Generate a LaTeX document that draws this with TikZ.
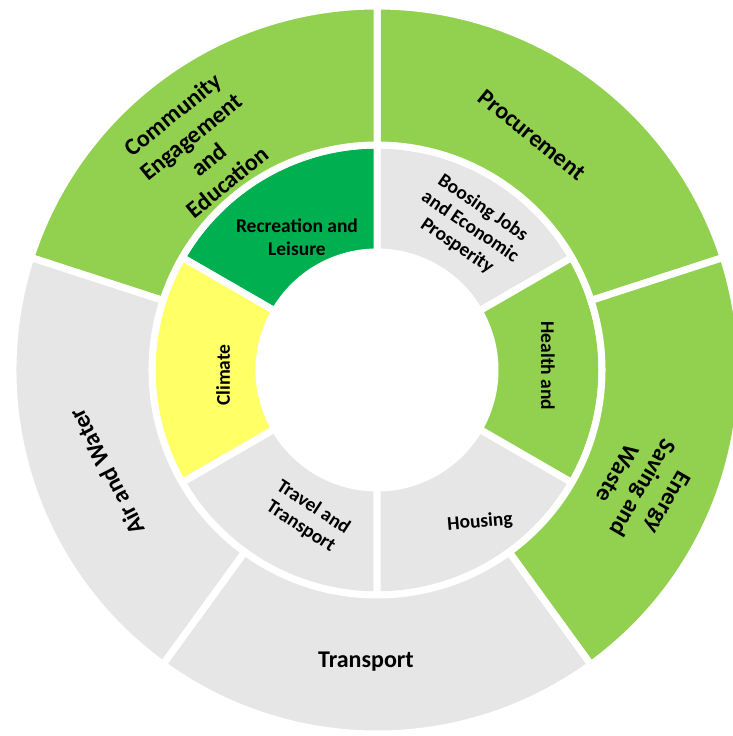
\documentclass[tikz,border=0pt]{standalone}
\usepackage{fontspec}
\setmainfont{Carlito}
\usepackage{xcolor}
\usepackage{tikz}
\usetikzlibrary{positioning}
\definecolor{leafgreen}{RGB}{146,208,80}
\definecolor{deepgreen}{RGB}{0,176,80}
\definecolor{paleyellow}{RGB}{255,255,102}
\definecolor{palegray}{RGB}{231,230,230}

\begin{document}
\begin{tikzpicture}[
  x=1pt, y=1pt,
  seg/.style={draw=white, line width=7pt, line join=miter},
  outerlbl/.style={font=\fontsize{24}{29}\selectfont\bfseries, align=center, text=black},
  innerlbl/.style={font=\fontsize{19.5}{23}\selectfont\bfseries, align=center, text=black}
]
\useasboundingbox (-377,-366) rectangle (355,370);
% inner ring
\foreach \from/\to/\col in {30/90/palegray, 90/150/deepgreen, 150/210/paleyellow,
                             210/270/palegray, 270/330/palegray, 330/390/leafgreen}
  \filldraw[seg, fill=\col] (\from:118) arc[start angle=\from, end angle=\to, radius=118]
    -- (\to:225) arc[start angle=\to, end angle=\from, radius=225] -- cycle;
% outer ring
\foreach \from/\to/\col in {18/90/leafgreen, 90/162/leafgreen, 162/234/palegray,
                             234/306/palegray, 306/378/leafgreen}
  \filldraw[seg, fill=\col] (\from:225) arc[start angle=\from, end angle=\to, radius=225]
    -- (\to:364) arc[start angle=\to, end angle=\from, radius=364] -- cycle;
% outer labels
\node[outerlbl, rotate=39] (community) at (-177,222) {Community\\Engagement\\and\\Education};
\node[outerlbl, rotate=-39] (procure) at (155,235) {Procurement};
\node[outerlbl, rotate=-120] (energy) at (266,-118) {Energy\\Saving and\\Waste};
\node[outerlbl] (transport) at (-11,-292) {Transport};
\node[outerlbl, rotate=117] (airwater) at (-270,-102) {Air and Water};
% inner labels
\node[innerlbl, rotate=-34] (jobs) at (93,143) {Boosing Jobs\\and Economic\\Prosperity};
\node[innerlbl] (leisure) at (-80,133) {Recreation and\\Leisure};
\node[innerlbl, rotate=90] (climate) at (-154,-5) {Climate};
\node[innerlbl, rotate=-33] (travel) at (-70,-147) {Travel and\\Transport};
\node[innerlbl, rotate=5] (housing) at (103,-152) {Housing};
\node[innerlbl, rotate=-90] (health) at (171,4) {Health and};
\end{tikzpicture}
\end{document}
